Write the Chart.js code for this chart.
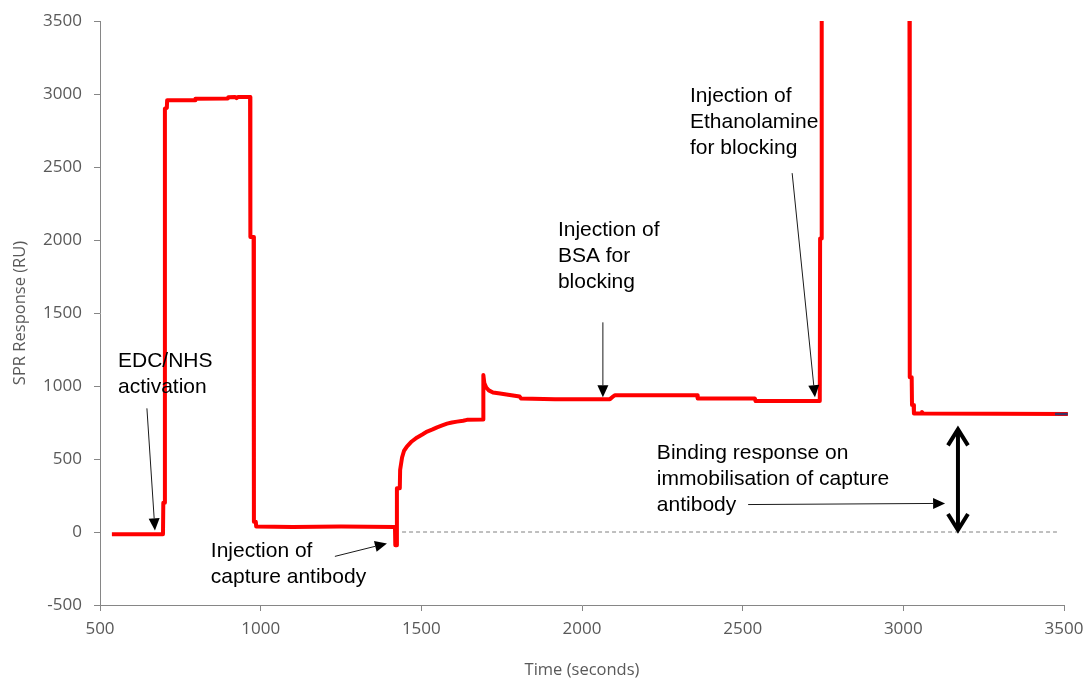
<!DOCTYPE html>
<html>
<head>
<meta charset="utf-8">
<script src="https://cdn.jsdelivr.net/npm/chart.js@4.4.1/dist/chart.umd.min.js"></script>
<style>
  html, body { margin: 0; padding: 0; background: #ffffff; }
  #wrap { width: 1086px; height: 680px; }
</style>
</head>
<body>
<div id="wrap"><canvas id="spr" width="1086" height="680"></canvas></div>
<script>
// Sensorgram: time (s) and SPR response (RU) of the sensor surface
const timeSec = [
  537, 696, 697, 701, 702, 708, 709, 796, 797, 898, 899, 920, 925, 930, 967,
  968, 978, 979, 985, 986, 1100, 1250, 1418,
  1419, 1423, 1424, 1433, 1434, 1440, 1446, 1455, 1470, 1487, 1503, 1518, 1535,
  1549, 1565, 1580, 1595, 1611, 1630, 1642, 1692,
  1693, 1696, 1702, 1710, 1723, 1745, 1770, 1806, 1810, 1916, 2087, 2095, 2103,
  2358, 2360, 2538, 2540, 2740, 2741, 2745, 2746,
  3019, 3020, 3026, 3027, 3032, 3033, 3055, 3058, 3062, 3512
];
const responseRU = [
  -15, -15, 200, 200, 2900, 2905, 2958, 2958, 2968, 2970, 2978, 2980, 2972, 2980, 2980,
  2020, 2020, 70, 70, 38, 35, 38, 35,
  -90, -90, 300, 300, 425, 510, 555, 585, 620, 648, 668, 688, 703,
  717, 730, 742, 750, 756, 762, 768, 770,
  1075, 1020, 990, 970, 955, 948, 940, 928, 915, 910, 910, 925, 937,
  937, 915, 915, 897, 897, 2010, 2010, 3800,
  3800, 1060, 1060, 870, 870, 812, 812, 822, 812, 808
];

// Short overlay at the end of the run
const tailTime = [3472, 3512];
const tailRU = [808, 808];

// Zero-response reference line
const baselineTime = [1440, 3478];
const baselineRU = [0, 0];

// Axis ticks
const xTicks = [500, 1000, 1500, 2000, 2500, 3000, 3500];
const yTicks = [-500, 0, 500, 1000, 1500, 2000, 2500, 3000, 3500];

const toPoints = (xs, ys) => xs.map((x, i) => ({ x: x, y: ys[i] }));

const AXIS_GREY = '#868686';
const LABEL_GREY = '#595959';

// Callout texts and arrows, anchored in data units (time, RU)
const notes = [
  { lines: ['EDC/NHS', 'activation'], t: 556, v: 1127 },
  { lines: ['Injection of', 'capture antibody'], t: 845, v: -174 },
  { lines: ['Injection of', 'BSA for', 'blocking'], t: 1925, v: 2026 },
  { lines: ['Injection of', 'Ethanolamine', 'for blocking'], t: 2336, v: 2945 },
  { lines: ['Binding response on', 'immobilisation of capture', 'antibody'], t: 2233, v: 498 }
];
const pointers = [
  { from: [646, 847], to: [671, 11] },
  { from: [1231, -167], to: [1393, -78] },
  { from: [2065, 1436], to: [2065, 923] },
  { from: [2654, 2458], to: [2725, 923] },
  { from: [2517, 188], to: [3130, 196] }
];
const bindingSpan = { t: 3170, top: 717, bottom: 0 };

function drawArrow(ctx, x1, y1, x2, y2) {
  const ang = Math.atan2(y2 - y1, x2 - x1);
  const len = 12, half = 5.5;
  const bx = x2 - len * Math.cos(ang), by = y2 - len * Math.sin(ang);
  ctx.beginPath();
  ctx.moveTo(x1, y1);
  ctx.lineTo(bx, by);
  ctx.stroke();
  ctx.beginPath();
  ctx.moveTo(x2, y2);
  ctx.lineTo(bx + half * Math.sin(ang), by - half * Math.cos(ang));
  ctx.lineTo(bx - half * Math.sin(ang), by + half * Math.cos(ang));
  ctx.closePath();
  ctx.fill();
}

const calloutPlugin = {
  id: 'callouts',
  afterDraw(chart) {
    const ctx = chart.ctx;
    const xs = chart.scales.x, ys = chart.scales.y;
    ctx.save();
    ctx.fillStyle = '#000000';
    ctx.font = '21px "Liberation Sans", Arial, sans-serif';
    ctx.textAlign = 'left';
    ctx.textBaseline = 'alphabetic';
    notes.forEach(n => {
      const x = xs.getPixelForValue(n.t);
      const y = ys.getPixelForValue(n.v);
      n.lines.forEach((s, i) => ctx.fillText(s, x, y + i * 26));
    });
    ctx.strokeStyle = '#1a1a1a';
    ctx.fillStyle = '#000000';
    ctx.lineWidth = 1;
    pointers.forEach(p => {
      drawArrow(ctx,
        xs.getPixelForValue(p.from[0]), ys.getPixelForValue(p.from[1]),
        xs.getPixelForValue(p.to[0]), ys.getPixelForValue(p.to[1]));
    });
    // Two-headed arrow spanning the immobilisation level
    const bx = xs.getPixelForValue(bindingSpan.t);
    const top = ys.getPixelForValue(bindingSpan.top);
    const bot = ys.getPixelForValue(bindingSpan.bottom);
    ctx.strokeStyle = '#000000';
    ctx.lineWidth = 4;
    ctx.lineJoin = 'miter';
    ctx.beginPath();
    ctx.moveTo(bx, top + 2);
    ctx.lineTo(bx, bot - 2);
    ctx.stroke();
    ctx.beginPath();
    ctx.moveTo(bx - 10, top + 18);
    ctx.lineTo(bx, top + 2);
    ctx.lineTo(bx + 10, top + 18);
    ctx.moveTo(bx - 10, bot - 18);
    ctx.lineTo(bx, bot - 2);
    ctx.lineTo(bx + 10, bot - 18);
    ctx.stroke();
    ctx.restore();
  }
};

const tickFont = { family: '"Open Sans", "DejaVu Sans", sans-serif', size: 17 };
const titleFont = { family: '"Open Sans", "DejaVu Sans", sans-serif', size: 16.5 };
// Trace is cut at the top of the plot but may run a few pixels past the right edge
const traceClip = { left: 0, top: 0, right: 6, bottom: 6 };

new Chart(document.getElementById('spr'), {
  type: 'line',
  data: {
    datasets: [
      {
        label: 'tail',
        data: toPoints(tailTime, tailRU),
        borderColor: '#3b3566',
        borderWidth: 2.5,
        pointRadius: 0,
        tension: 0,
        clip: traceClip
      },
      {
        label: 'SPR response',
        data: toPoints(timeSec, responseRU),
        borderColor: '#ff0000',
        borderWidth: 4,
        pointRadius: 0,
        tension: 0,
        borderJoinStyle: 'round',
        clip: traceClip
      },
      {
        label: 'baseline',
        data: toPoints(baselineTime, baselineRU),
        borderColor: '#808080',
        borderWidth: 1,
        borderDash: [4, 3],
        pointRadius: 0,
        tension: 0,
        clip: 0
      }
    ]
  },
  options: {
    responsive: false,
    animation: false,
    devicePixelRatio: 1,
    layout: { padding: { top: 21, right: 22, left: 0, bottom: 0 } },
    plugins: { legend: { display: false }, tooltip: { enabled: false } },
    scales: {
      x: {
        type: 'linear',
        min: xTicks[0],
        max: xTicks[xTicks.length - 1],
        afterBuildTicks: (scale) => { scale.ticks = xTicks.map(v => ({ value: v })); },
        afterFit: (scale) => { scale.height = 75; scale.paddingLeft = 0; scale.paddingRight = 0; },
        grid: { drawOnChartArea: false, drawTicks: true, tickLength: 6, color: AXIS_GREY },
        border: { display: true, color: AXIS_GREY, width: 1 },
        ticks: { color: LABEL_GREY, font: tickFont, padding: 8, maxRotation: 0, callback: (v) => String(v) },
        title: { display: true, text: 'Time (seconds)', color: LABEL_GREY, font: titleFont, padding: { top: 0, bottom: 0 } }
      },
      y: {
        type: 'linear',
        min: yTicks[0],
        max: yTicks[yTicks.length - 1],
        afterBuildTicks: (scale) => { scale.ticks = yTicks.map(v => ({ value: v })); },
        afterFit: (scale) => { scale.width = 100; scale.paddingTop = 0; scale.paddingBottom = 0; },
        grid: { drawOnChartArea: false, drawTicks: true, tickLength: 6, color: AXIS_GREY },
        border: { display: true, color: AXIS_GREY, width: 1 },
        ticks: { color: LABEL_GREY, font: tickFont, padding: 12, callback: (v) => String(v) },
        title: { display: true, text: 'SPR Response (RU)', color: LABEL_GREY, font: titleFont, padding: { top: 10, bottom: 0 } }
      }
    }
  },
  plugins: [calloutPlugin]
});
</script>
</body>
</html>
